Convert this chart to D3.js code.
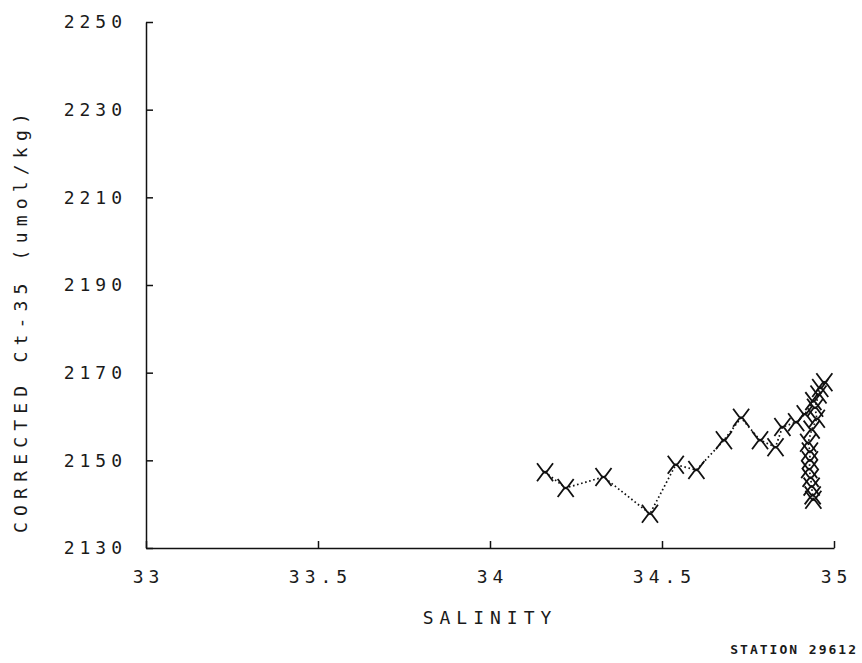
<!DOCTYPE html>
<html>
<head>
<meta charset="utf-8">
<script src="https://cdn.jsdelivr.net/npm/d3@7"></script>
<style>
  body { margin: 0; background: #fff; }
  text { font-family: "DejaVu Sans Mono", monospace; fill: #1a1a1a; }
  .tick text, .lbl { font-size: 18px; letter-spacing: 5px; }
</style>
</head>
<body>
<svg id="chart" width="862" height="663"></svg>
<script>
// salinity / corrected Ct-35 pairs, in plot order
const salinity = [34.16, 34.22, 34.33, 34.465, 34.54, 34.60, 34.68, 34.73, 34.785, 34.83,
  34.85, 34.89, 34.915, 34.94, 34.96, 34.972, 34.955, 34.945, 34.95, 34.935,
  34.925, 34.93, 34.93, 34.928, 34.932, 34.935, 34.938, 34.94];
const ct35 = [2147.3, 2143.7, 2146.2, 2137.8, 2149, 2147.8, 2154.6, 2159.7, 2154.6, 2153,
  2157.6, 2158.7, 2160.5, 2163.5, 2166.5, 2167.8, 2165, 2162, 2159.5, 2157,
  2154, 2152, 2150, 2148, 2146, 2144, 2142, 2141];
const xTicks = [33, 33.5, 34, 34.5, 35];
const yTicks = [2130, 2150, 2170, 2190, 2210, 2230, 2250];

const svg = d3.select('#chart');
const x = d3.scaleLinear().domain([33, 35]).range([146, 834]);
const y = d3.scaleLinear().domain([2130, 2250]).range([548, 22]);

// ── axes ────────────────────────────────────────
svg.append('g')
  .attr('transform', 'translate(146,0)')
  .call(d3.axisLeft(y).tickValues(yTicks).tickSizeInner(-7).tickSizeOuter(0)
    .tickPadding(18).tickFormat(d => d))
  .call(g => g.selectAll('text').attr('dx', -1))
  .call(g => g.selectAll('path, line').attr('stroke', '#111').attr('stroke-width', 1.5));

svg.append('g')
  .attr('transform', 'translate(0,548)')
  .call(d3.axisBottom(x).tickValues(xTicks).tickSizeInner(-7).tickSizeOuter(0)
    .tickPadding(22).tickFormat(d => d))
  .call(g => g.selectAll('text').attr('dx', 2))
  .call(g => g.selectAll('path, line').attr('stroke', '#111').attr('stroke-width', 1.5));

svg.selectAll('.tick text').style('font-size', '18px');

// ── labels ──────────────────────────────────────
svg.append('text').attr('class', 'lbl')
  .attr('x', 490).attr('y', 624).attr('text-anchor', 'middle')
  .style('letter-spacing', '6px')
  .text('SALINITY');

svg.append('text').attr('class', 'lbl')
  .attr('transform', 'translate(27,320) rotate(-90)')
  .attr('text-anchor', 'middle')
  .style('letter-spacing', '6.2px')
  .text('CORRECTED Ct-35 (umol/kg)');

svg.append('text')
  .attr('x', 858).attr('y', 654).attr('text-anchor', 'end')
  .style('font-size', '13px').style('font-weight', 'bold').style('letter-spacing', '2px')
  .text('STATION  29612');

// ── data ────────────────────────────────────────
const pts = salinity.map((s, i) => ({ s, c: ct35[i] }));

svg.append('path')
  .datum(pts)
  .attr('fill', 'none')
  .attr('stroke', '#111')
  .attr('stroke-width', 1.7)
  .attr('stroke-dasharray', '1.6,2.6')
  .attr('d', d3.line().x(d => x(d.s)).y(d => y(d.c)));

svg.selectAll('.mark').data(pts)
  .join('path')
  .attr('class', 'mark')
  .attr('transform', d => `translate(${x(d.s)},${y(d.c)})`)
  .attr('d', 'M-8,-9 L-2,-1 L2,1 L8,9 M8,-9 L2,-1 L-2,1 L-8,9')
  .attr('fill', 'none')
  .attr('stroke', '#111')
  .attr('stroke-width', 1.8);
</script>
</body>
</html>
